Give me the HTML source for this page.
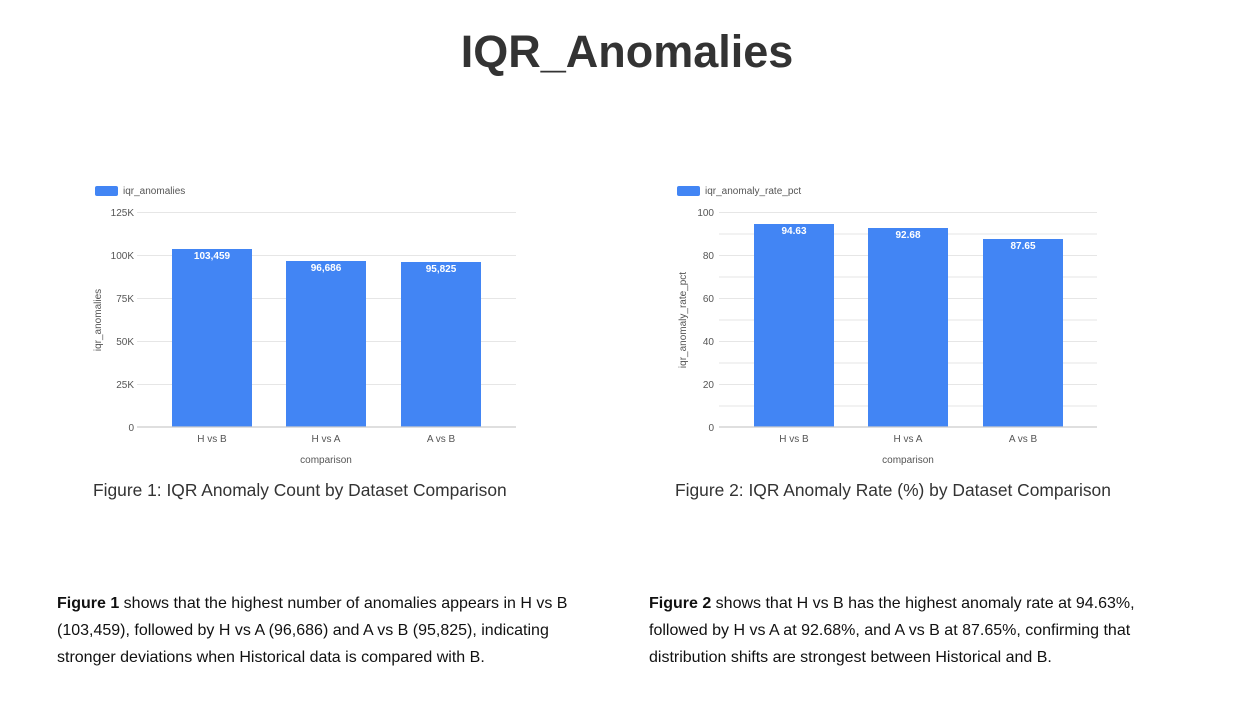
<!DOCTYPE html>
<html><head><meta charset="utf-8"><style>
body{margin:0;width:1243px;height:724px;background:#fff;font-family:"Liberation Sans",Arial,sans-serif;position:relative;overflow:hidden}
.t{position:absolute;white-space:nowrap}
</style></head><body>
<div class="t" style="left:0;width:1254px;text-align:center;top:26px;font-size:45px;font-weight:bold;color:#333">IQR_Anomalies</div>

<svg width="1243" height="724" style="position:absolute;left:0;top:0" font-family="Liberation Sans,Arial,sans-serif">
<g font-size="10" fill="#555">
<rect x="95" y="186" width="23" height="10" rx="2" fill="#4285f4"/>
<text x="123" y="194">iqr_anomalies</text>
<g stroke="#e6e6e6" stroke-width="1">
<line x1="137" x2="516" y1="212.5" y2="212.5"/><line x1="137" x2="516" y1="255.5" y2="255.5"/>
<line x1="137" x2="516" y1="298.5" y2="298.5"/><line x1="137" x2="516" y1="341.5" y2="341.5"/>
<line x1="137" x2="516" y1="384.5" y2="384.5"/>
</g>
<g text-anchor="end">
<text x="134" y="216">125K</text><text x="134" y="259">100K</text><text x="134" y="302">75K</text>
<text x="134" y="345">50K</text><text x="134" y="388">25K</text><text x="134" y="431">0</text>
</g>
<rect x="172" y="249" width="80" height="178" fill="#4285f4"/>
<rect x="286" y="261" width="80" height="166" fill="#4285f4"/>
<rect x="401" y="262" width="80" height="165" fill="#4285f4"/>
<line x1="137" x2="516" y1="427" y2="427" stroke="#ccc" stroke-width="1.2"/>
<g text-anchor="middle" fill="#fff" font-weight="bold">
<text x="212" y="259">103,459</text><text x="326" y="271">96,686</text><text x="441" y="272">95,825</text>
</g>
<g text-anchor="middle">
<text x="212" y="442">H vs B</text><text x="326" y="442">H vs A</text><text x="441" y="442">A vs B</text>
<text x="326" y="463">comparison</text>
</g>
<text transform="translate(101,320) rotate(-90)" text-anchor="middle">iqr_anomalies</text>

<rect x="677" y="186" width="23" height="10" rx="2" fill="#4285f4"/>
<text x="705" y="194">iqr_anomaly_rate_pct</text>
<g stroke="#e6e6e6" stroke-width="1">
<line x1="719" x2="1097" y1="212.5" y2="212.5"/><line x1="719" x2="1097" y1="234" y2="234"/>
<line x1="719" x2="1097" y1="255.5" y2="255.5"/><line x1="719" x2="1097" y1="277" y2="277"/>
<line x1="719" x2="1097" y1="298.5" y2="298.5"/><line x1="719" x2="1097" y1="320" y2="320"/>
<line x1="719" x2="1097" y1="341.5" y2="341.5"/><line x1="719" x2="1097" y1="363" y2="363"/>
<line x1="719" x2="1097" y1="384.5" y2="384.5"/><line x1="719" x2="1097" y1="406" y2="406"/>
</g>
<g text-anchor="end">
<text x="714" y="216">100</text><text x="714" y="259">80</text><text x="714" y="302">60</text>
<text x="714" y="345">40</text><text x="714" y="388">20</text><text x="714" y="431">0</text>
</g>
<rect x="754" y="224" width="80" height="203" fill="#4285f4"/>
<rect x="868" y="228" width="80" height="199" fill="#4285f4"/>
<rect x="983" y="239" width="80" height="188" fill="#4285f4"/>
<line x1="719" x2="1097" y1="427" y2="427" stroke="#ccc" stroke-width="1.2"/>
<g text-anchor="middle" fill="#fff" font-weight="bold">
<text x="794" y="234">94.63</text><text x="908" y="238">92.68</text><text x="1023" y="249">87.65</text>
</g>
<g text-anchor="middle">
<text x="794" y="442">H vs B</text><text x="908" y="442">H vs A</text><text x="1023" y="442">A vs B</text>
<text x="908" y="463">comparison</text>
</g>
<text transform="translate(686,320) rotate(-90)" text-anchor="middle">iqr_anomaly_rate_pct</text>
</g>
</svg>

<div class="t" style="left:93px;top:480px;font-size:17.4px;color:#333">Figure 1: IQR Anomaly Count by Dataset Comparison</div>
<div class="t" style="left:675px;top:480px;font-size:17.4px;color:#333">Figure 2: IQR Anomaly Rate (%) by Dataset Comparison</div>

<div class="t" style="left:57px;top:590px;font-size:16px;line-height:27px;color:#111"><b>Figure 1</b> shows that the highest number of anomalies appears in H vs B<br>(103,459), followed by H vs A (96,686) and A vs B (95,825), indicating<br>stronger deviations when Historical data is compared with B.</div>
<div class="t" style="left:649px;top:590px;font-size:16px;line-height:27px;color:#111"><b>Figure 2</b> shows that H vs B has the highest anomaly rate at 94.63%,<br>followed by H vs A at 92.68%, and A vs B at 87.65%, confirming that<br>distribution shifts are strongest between Historical and B.</div>
</body></html>
